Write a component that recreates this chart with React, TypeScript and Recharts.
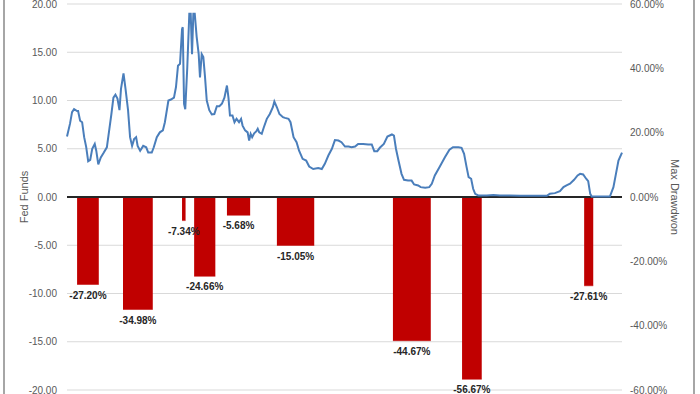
import React from 'react';
import {
  ComposedChart,
  Line,
  Area,
  XAxis,
  YAxis,
  CartesianGrid,
  ReferenceLine,
  LabelList,
} from 'recharts';

// Fed funds rate (x in years)
const fedYears = [
  1969.0, 1969.3, 1969.5, 1969.7, 1970.0, 1970.1, 1970.3, 1970.5, 1970.7, 1970.9,
  1971.1, 1971.3, 1971.5, 1971.75, 1971.9, 1972.1, 1972.35, 1972.65, 1972.95, 1973.2,
  1973.4, 1973.6, 1973.8, 1974.0, 1974.2, 1974.35, 1974.6, 1974.8, 1975.05, 1975.25,
  1975.45, 1975.65, 1975.85, 1976.0, 1976.25, 1976.55, 1976.85, 1977.05, 1977.4, 1977.6,
  1977.9, 1978.2, 1978.5, 1978.7, 1979.05, 1979.3, 1979.6, 1979.8, 1980.0, 1980.2,
  1980.4, 1980.47, 1980.6, 1980.72, 1980.92, 1981.12, 1981.26, 1981.39, 1981.52, 1981.66,
  1981.85, 1982.05, 1982.18, 1982.35, 1982.51, 1982.68, 1982.85, 1983.1, 1983.35, 1983.6,
  1983.85, 1984.1, 1984.35, 1984.6, 1984.85, 1985.0, 1985.15, 1985.4, 1985.6, 1985.8,
  1986.05, 1986.25, 1986.4, 1986.65, 1986.9, 1987.05, 1987.2, 1987.35, 1987.55, 1987.75,
  1987.9, 1988.05, 1988.3, 1988.5, 1988.8, 1989.1, 1989.4, 1989.55, 1989.8, 1990.05,
  1990.4, 1990.6, 1990.95, 1991.15, 1991.45, 1991.75, 1992.0, 1992.35, 1992.7, 1993.0,
  1993.4, 1993.9, 1994.25, 1994.55, 1994.9, 1995.25, 1995.55, 1995.9, 1996.2, 1996.55,
  1996.9, 1997.2, 1997.55, 1997.85, 1998.35, 1998.85, 1999.2, 1999.45, 1999.75, 2000.0,
  2000.4, 2000.75, 2001.2, 2001.4, 2001.6, 2001.85, 2002.15, 2002.4, 2002.8, 2003.15,
  2003.4, 2003.8, 2004.05, 2004.5, 2004.9, 2005.15, 2005.45, 2005.95, 2006.45, 2006.9,
  2007.25, 2007.8, 2008.1, 2008.35, 2008.6, 2008.8, 2009.05, 2009.25, 2009.45, 2009.75,
  2010.6, 2011.25, 2011.9, 2012.9, 2013.9, 2016.55, 2016.85, 2017.35, 2017.85, 2018.2,
  2018.5, 2018.85, 2019.25, 2019.6, 2019.85, 2020.15, 2020.45, 2020.65, 2020.85, 2021.0,
  2021.8, 2022.8, 2023.15, 2023.4, 2023.65, 2024.0,
];
const fedRates = [
  6.27, 7.6, 8.8, 9.1, 8.9, 8.9, 7.9, 7.75, 6.2, 5.2,
  3.7, 3.85, 5.0, 5.5, 4.8, 3.37, 4.1, 4.6, 5.15, 7.07,
  8.6, 10.3, 10.6, 10.2, 9.0, 11.2, 12.8, 11.2, 9.0, 6.2,
  5.3, 6.0, 6.2, 5.3, 4.8, 5.3, 5.15, 4.6, 4.6, 5.15,
  6.2, 6.7, 6.9, 7.75, 10.0, 10.1, 10.3, 11.4, 13.6, 13.8,
  17.4, 17.6, 9.66, 9.1, 13.45, 19.0, 19.0, 14.8, 19.0, 19.0,
  16.6, 14.8, 12.4, 14.8, 14.5, 12.4, 10.0, 9.0, 8.55, 8.6,
  9.4, 9.4, 9.66, 10.3, 11.55, 10.3, 8.45, 8.45, 7.75, 8.1,
  7.75, 8.1, 7.4, 6.9, 6.7, 5.85, 6.55, 6.2, 6.6, 6.8,
  7.07, 6.7, 6.55, 7.2, 8.1, 8.6, 9.3, 9.9, 9.3, 8.6,
  8.27, 8.2, 8.1, 7.75, 6.2, 5.68, 4.8, 3.96, 3.78, 3.16,
  2.9, 3.0, 2.9, 3.44, 4.3, 5.0, 5.9, 5.85, 5.68, 5.23,
  5.23, 5.16, 5.23, 5.5, 5.5, 5.44, 5.44, 4.75, 4.75, 5.1,
  5.5, 6.27, 6.48, 6.37, 5.0, 3.78, 2.4, 1.78, 1.7, 1.7,
  1.3, 1.2, 1.02, 0.95, 1.02, 1.37, 2.23, 3.16, 4.12, 4.9,
  5.16, 5.16, 5.1, 4.48, 3.09, 2.05, 1.89, 0.85, 0.33, 0.16,
  0.16, 0.2, 0.15, 0.16, 0.12, 0.12, 0.33, 0.4, 0.6, 1.02,
  1.2, 1.37, 1.78, 2.23, 2.4, 2.33, 1.89, 1.64, 0.33, 0.05,
  0.05, 0.05, 1.02, 2.4, 3.78, 4.6,
];

// Max drawdown periods
const ddStart = [1970.0, 1974.55, 1980.4, 1981.6, 1984.85, 1989.8, 2001.3, 2008.15, 2020.25];
const ddEnd = [1972.15, 1977.5, 1980.75, 1983.7, 1987.15, 1993.5, 2005.05, 2010.1, 2021.15];
const ddValues = [-27.2, -34.98, -7.34, -24.66, -5.68, -15.05, -44.67, -56.67, -27.61];

const leftTicks = [-20, -15, -10, -5, 0, 5, 10, 15, 20];
const rightTicks = [-60, -40, -20, 0, 20, 40, 60];

const fedData = fedYears.map((x, i) => ({ x, fed: fedRates[i] }));

// each drawdown is a flat area segment from start to end, split by nulls
const ddArea = ddStart.flatMap((s, i) => [
  { x: s, dd: ddValues[i] },
  { x: ddEnd[i], dd: ddValues[i] },
  { x: ddEnd[i], dd: null },
]);

const ddLabels = ddStart.map((s, i) => ({ x: (s + ddEnd[i]) / 2, dd: ddValues[i] }));

const font = '"Liberation Sans Narrow", "Liberation Sans", Arial, sans-serif';
const tickStyle = { fontSize: 10, fill: '#595959', fontFamily: font };

export default function App() {
  return (
    <div style={{ position: 'absolute', left: 0, top: 0, width: 700, height: 394, background: '#fff', overflow: 'hidden' }}>
      <div
        style={{
          position: 'absolute',
          left: 3,
          top: -10,
          width: 688,
          height: 420,
          borderLeft: '2px solid #a6a6a6',
          borderRight: '2px solid #a6a6a6',
        }}
      />
      <ComposedChart
        width={700}
        height={394}
        margin={{ top: 4, right: 0, bottom: 4, left: 0 }}
        style={{ position: 'absolute', left: 0, top: 0 }}
      >
        <CartesianGrid yAxisId="left" vertical={false} stroke="#d9d9d9" strokeWidth={1} />
        <XAxis type="number" dataKey="x" domain={[1969, 2024]} hide allowDuplicatedCategory={false} />
        <YAxis
          yAxisId="left"
          domain={[-20, 20]}
          ticks={leftTicks}
          interval={0}
          tickFormatter={(v: number) => v.toFixed(2)}
          width={67}
          axisLine={false}
          tickLine={false}
          tickMargin={4}
          tick={tickStyle}
          label={{ value: 'Fed Funds', angle: -90, position: 'center', dx: -9, style: { ...tickStyle, fontSize: 11, textAnchor: 'middle' } }}
        />
        <YAxis
          yAxisId="right"
          orientation="right"
          domain={[-60, 60]}
          ticks={rightTicks}
          interval={0}
          tickFormatter={(v: number) => `${v.toFixed(2)}%`}
          width={78}
          axisLine={false}
          tickLine={false}
          tickMargin={2}
          tick={tickStyle}
          label={{ value: 'Max Drawdwon', angle: 90, position: 'center', dx: 14, style: { ...tickStyle, fontSize: 11, textAnchor: 'middle' } }}
        />
        <Area
          yAxisId="right"
          data={ddArea}
          dataKey="dd"
          type="linear"
          baseValue={0}
          fill="#c00000"
          fillOpacity={1}
          stroke="#c00000"
          strokeWidth={0.5}
          dot={false}
          activeDot={false}
          connectNulls={false}
          isAnimationActive={false}
        />
        <ReferenceLine yAxisId="left" y={0} stroke="#262626" strokeWidth={2} />
        <Line
          yAxisId="left"
          data={fedData}
          dataKey="fed"
          type="linear"
          stroke="#4a7ebb"
          strokeWidth={2}
          dot={false}
          activeDot={false}
          isAnimationActive={false}
        />
        <Line
          yAxisId="right"
          data={ddLabels}
          dataKey="dd"
          stroke="none"
          dot={false}
          activeDot={false}
          isAnimationActive={false}
        >
          <LabelList
            dataKey="dd"
            position="bottom"
            offset={7}
            formatter={(v: number) => `${v.toFixed(2)}%`}
            style={{ fontSize: 10, fontWeight: 700, fill: '#262626', fontFamily: font }}
          />
        </Line>
      </ComposedChart>
    </div>
  );
}
